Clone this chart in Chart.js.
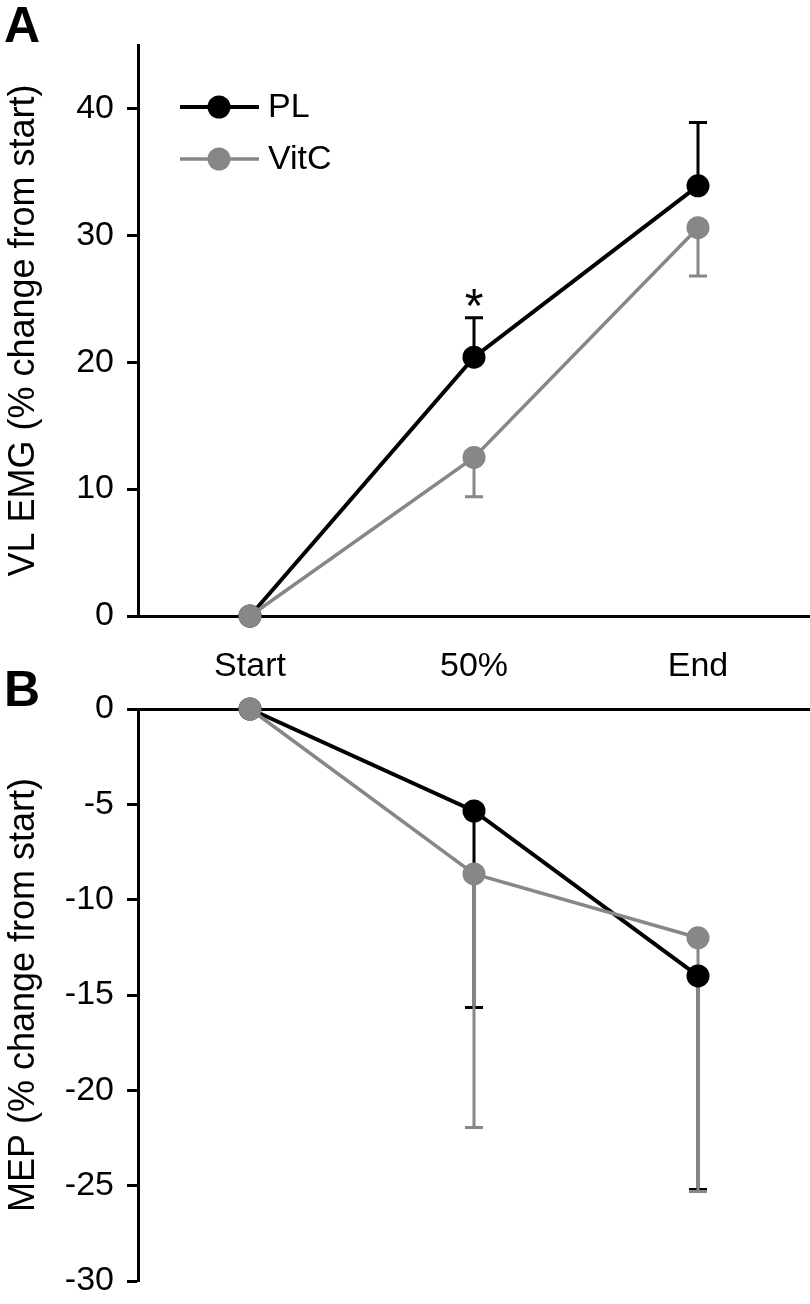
<!DOCTYPE html>
<html>
<head>
<meta charset="utf-8">
<script src="https://cdn.jsdelivr.net/npm/chart.js@4.4.1/dist/chart.umd.min.js"></script>
<style>
  body { margin: 0; background: #fff; }
  #wrap { position: relative; width: 810px; height: 1304px; overflow: hidden; }
  canvas { position: absolute; left: 0; }
  #chartA { top: 0; }
  #chartB { top: 680px; }
  .panel { position: absolute; left: 4px; font: bold 50px "Liberation Sans", Arial, sans-serif; }
</style>
</head>
<body>
<div id="wrap">
  <canvas id="chartA" width="810" height="700"></canvas>
  <canvas id="chartB" width="810" height="624"></canvas>
  <div class="panel" style="top:-4px">A</div>
  <div class="panel" style="top:660px">B</div>
</div>
<script>
const categories = ['Start', '50%', 'End'];

// panel A: VL EMG (% change from start)
const emgPL = [0, 20.4, 33.9];
const emgPLErr = [0, 3.1, 5.0];
const emgVitC = [0, 12.5, 30.6];
const emgVitCErr = [0, 3.1, 3.8];
const emgTicks = [0, 10, 20, 30, 40];

// panel B: MEP (% change from start)
const mepPL = [0, -5.35, -14.0];
const mepPLErr = [0, 10.3, 11.2];
const mepVitC = [0, -8.65, -12.0];
const mepVitCErr = [0, 13.3, 13.3];
const mepTicks = [0, -5, -10, -15, -20, -25, -30];

const black = '#000000';
const grey = '#878787';

Chart.defaults.font.family = '"Liberation Sans", Arial, sans-serif';
Chart.defaults.font.size = 34;
Chart.defaults.color = '#000';

// error bars are drawn under the lines and points
const errorBars = {
  id: 'errorBars',
  beforeDatasetsDraw(chart) {
    const ctx = chart.ctx;
    const x = chart.scales.x, y = chart.scales.y;
    chart.data.datasets.forEach((ds) => {
      ctx.save();
      ctx.strokeStyle = ds.borderColor;
      ctx.lineWidth = 3;
      ds.data.forEach((v, i) => {
        const e = ds.err[i];
        if (!e) return;
        const px = x.getPixelForValue(i);
        const y0 = y.getPixelForValue(v);
        const y1 = y.getPixelForValue(v + ds.errDir * e);
        ctx.beginPath();
        ctx.moveTo(px, y0);
        ctx.lineTo(px, y1);
        ctx.moveTo(px - 9, y1);
        ctx.lineTo(px + 9, y1);
        ctx.stroke();
      });
      ctx.restore();
    });
  }
};

const legendA = {
  id: 'legendA',
  afterDraw(chart) {
    const ctx = chart.ctx;
    const rows = [[chart.data.datasets[0], 107], [chart.data.datasets[1], 159]];
    rows.forEach(([ds, ly]) => {
      ctx.save();
      ctx.strokeStyle = ds.borderColor;
      ctx.lineWidth = ds.borderWidth;
      ctx.beginPath();
      ctx.moveTo(180, ly);
      ctx.lineTo(259, ly);
      ctx.stroke();
      ctx.fillStyle = ds.pointBackgroundColor;
      ctx.beginPath();
      ctx.arc(219, ly, 11.5, 0, Math.PI * 2);
      ctx.fill();
      ctx.fillStyle = '#000';
      ctx.font = '34px "Liberation Sans", Arial, sans-serif';
      ctx.textBaseline = 'middle';
      ctx.fillText(ds.label, 268, ly + 1);
      ctx.restore();
    });
    // significance mark above PL at 50%
    const ds = chart.data.datasets[0];
    const px = chart.scales.x.getPixelForValue(1);
    const py = chart.scales.y.getPixelForValue(ds.data[1] + ds.err[1]);
    ctx.save();
    ctx.fillStyle = '#000';
    ctx.font = '48px "Liberation Sans", Arial, sans-serif';
    ctx.textAlign = 'center';
    ctx.textBaseline = 'alphabetic';
    ctx.fillText('*', px, py + 4);
    ctx.restore();
  }
};

// order: VitC (order 0) is painted on top of PL (order 1)
function lineSet(label, data, err, dir, color, width, order) {
  return {
    label: label,
    data: data,
    err: err,
    errDir: dir,
    order: order,
    borderColor: color,
    borderWidth: width,
    pointBackgroundColor: color,
    pointBorderWidth: 0,
    pointRadius: 11.5,
    pointHoverRadius: 11.5,
    clip: false,
    tension: 0
  };
}

function noPad(s) {
  s.paddingLeft = 0;
  s.paddingRight = 0;
  s.paddingTop = 0;
  s.paddingBottom = 0;
}

function yScale(min, max, ticks, title) {
  return {
    min: min,
    max: max,
    afterFit: (s) => { s.width = 138; noPad(s); },
    afterBuildTicks: (s) => { s.ticks = ticks.map(v => ({ value: v })); },
    border: { display: true, color: '#000', width: 3 },
    grid: { drawOnChartArea: false, drawTicks: true, tickLength: 11, tickColor: '#000', tickWidth: 3 },
    ticks: { padding: 13, color: '#000' },
    title: { display: true, text: title, font: { size: 36 }, padding: { top: 2, bottom: 0 }, color: '#000' }
  };
}

new Chart(document.getElementById('chartA'), {
  type: 'line',
  data: {
    labels: categories,
    datasets: [
      lineSet('PL', emgPL, emgPLErr, 1, black, 4, 1),
      lineSet('VitC', emgVitC, emgVitCErr, -1, grey, 3.5, 0)
    ]
  },
  options: {
    responsive: false,
    devicePixelRatio: 1,
    animation: false,
    layout: { autoPadding: false, padding: { top: 45, left: 0, right: 0, bottom: 0 } },
    plugins: { legend: { display: false }, tooltip: { enabled: false } },
    scales: {
      x: {
        offset: true,
        afterFit: (s) => { s.height = 84; noPad(s); },
        border: { display: true, color: '#000', width: 3 },
        grid: { display: false, drawTicks: false, offset: true },
        ticks: { padding: 30, color: '#000' }
      },
      y: yScale(0, 45, emgTicks, 'VL EMG (% change from start)')
    }
  },
  plugins: [errorBars, legendA]
});

new Chart(document.getElementById('chartB'), {
  type: 'line',
  data: {
    labels: categories,
    datasets: [
      lineSet('PL', mepPL, mepPLErr, -1, black, 4, 1),
      lineSet('VitC', mepVitC, mepVitCErr, -1, grey, 3.5, 0)
    ]
  },
  options: {
    responsive: false,
    devicePixelRatio: 1,
    animation: false,
    layout: { autoPadding: false, padding: { top: 29, left: 0, right: 0, bottom: 23 } },
    plugins: { legend: { display: false }, tooltip: { enabled: false } },
    scales: {
      x: {
        position: 'top',
        offset: true,
        afterFit: (s) => { s.height = 0; noPad(s); },
        border: { display: true, color: '#000', width: 3 },
        grid: { display: false, drawTicks: false, offset: true },
        ticks: { display: false }
      },
      y: yScale(-30, 0, mepTicks, 'MEP (% change from start)')
    }
  },
  plugins: [errorBars]
});
</script>
</body>
</html>
